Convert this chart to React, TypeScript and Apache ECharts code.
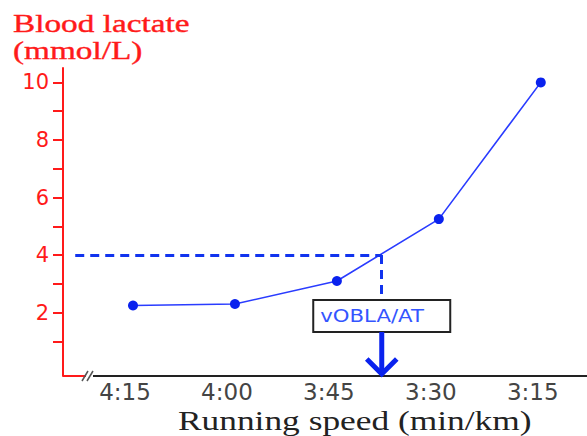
import React, { useEffect, useRef } from "react";
import * as echarts from "echarts";

// Data
const paceLabels = ["4:15", "4:00", "3:45", "3:30", "3:15"];
const paceSeconds = [255, 240, 225, 210, 195];
const lactate = [2.25, 2.3, 3.1, 5.25, 10.0];
const yTickValues = [1, 2, 3, 4, 5, 6, 7, 8, 9, 10];
const yLabelValues = [2, 4, 6, 8, 10];
const oblaLactate = 4;
const oblaPace = 218.4; // ~3:38 min/km
const oblaText = "vOBLA/AT";
const yTitleLines = ["Blood lactate", "(mmol/L)"];
const xTitle = "Running speed (min/km)";

export default function App() {
  const ref = useRef<HTMLDivElement>(null);
  useEffect(() => {
    if (!ref.current) return;
    const chart = echarts.init(ref.current, null, { renderer: "svg" });
    const blue = "#1133ee";
    const red = "#ff1a1a";
    chart.setOption({
      animation: false,
      grid: { left: 63, right: 0, top: 68, bottom: 60, containLabel: false, outerBoundsMode: "none" },
      xAxis: {
        type: "value",
        min: 188.2,
        max: 265.3,
        inverse: true,
        axisLine: { show: false },
        axisTick: { show: false },
        splitLine: { show: false },
        axisLabel: {
          customValues: paceSeconds,
          formatter: (v: number) => paceLabels[paceSeconds.indexOf(v)] ?? "",
          color: "#444",
          fontFamily: "DejaVu Sans",
          fontSize: 23,
          margin: 4,
          padding: [0, 16, 0, 0],
        },
      },
      yAxis: {
        type: "value",
        min: -0.2,
        max: 10.5,
        axisLine: { show: true, lineStyle: { color: red, width: 2 } },
        axisTick: {
          show: true,
          customValues: yTickValues,
          length: 10,
          lineStyle: { color: red, width: 2 },
        },
        splitLine: { show: false },
        axisLabel: {
          customValues: yLabelValues,
          color: red,
          fontFamily: "DejaVu Sans",
          fontSize: 21,
          margin: 14,
        },
      },
      series: [
        {
          type: "line",
          data: paceSeconds.map((p, i) => [p, lactate[i]]),
          symbol: "circle",
          symbolSize: 10,
          lineStyle: { color: "#2a3cff", width: 1.6 },
          itemStyle: { color: "#0a22ee" },
          markLine: {
            silent: true,
            symbol: "none",
            label: { show: false },
            lineStyle: { color: blue, width: 3, type: [9, 6] },
            data: [
              [{ coord: [263.5, oblaLactate] }, { coord: [oblaPace, oblaLactate] }],
              [{ coord: [oblaPace, oblaLactate] }, { coord: [oblaPace, 2.6] }],
            ],
          },
        },
      ],
    });

    const top = chart.convertToPixel({ gridIndex: 0 }, [oblaPace, 2.44]) as number[];
    const base = chart.convertToPixel({ gridIndex: 0 }, [oblaPace, -0.2]) as number[];
    const cx = top[0];
    const boxTop = top[1];
    const boxH = 32;
    const boxW = 137;
    const axisY = base[1];
    chart.setOption({
      graphic: [
        // x axis: red stub, break marks, black axis
        { type: "line", shape: { x1: 63, y1: axisY, x2: 86, y2: axisY }, style: { stroke: red, lineWidth: 2 } },
        { type: "line", shape: { x1: 82, y1: axisY + 5, x2: 88, y2: axisY - 5 }, style: { stroke: "#555", lineWidth: 1.5 } },
        { type: "line", shape: { x1: 87, y1: axisY + 5, x2: 93, y2: axisY - 5 }, style: { stroke: "#555", lineWidth: 1.5 } },
        { type: "line", shape: { x1: 93, y1: axisY, x2: 587, y2: axisY }, style: { stroke: "#222", lineWidth: 2 } },
        // titles
        {
          type: "text", x: 13, y: 23, scaleX: 1.28,
          style: { text: yTitleLines[0], x: 0, y: 0, fill: red, stroke: red, lineWidth: 0.4, font: "26px 'Liberation Serif'", align: "left", verticalAlign: "middle" },
        },
        {
          type: "text", x: 13, y: 50, scaleX: 1.28,
          style: { text: yTitleLines[1], x: 0, y: 0, fill: red, stroke: red, lineWidth: 0.4, font: "26px 'Liberation Serif'", align: "left", verticalAlign: "middle" },
        },
        {
          type: "text", x: 178, y: 421, scaleX: 1.31,
          style: { text: xTitle, x: 0, y: 0, fill: "#222", font: "27px 'Liberation Serif'", align: "left", verticalAlign: "middle" },
        },
        // OBLA box
        {
          type: "rect",
          shape: { x: cx - boxW / 2, y: boxTop, width: boxW, height: boxH },
          style: { fill: "#fff", stroke: "#222", lineWidth: 2 },
        },
        {
          type: "text", x: cx - boxW / 2 + 7, y: boxTop + boxH / 2, scaleX: 1.18,
          style: { text: oblaText, x: 0, y: 0, fill: "#3355ff", font: "18px 'DejaVu Sans'", align: "left", verticalAlign: "middle" },
        },
        // arrow
        { type: "line", shape: { x1: cx, y1: boxTop + boxH, x2: cx, y2: axisY - 2 }, style: { stroke: "#0a22ee", lineWidth: 5 } },
        {
          type: "polyline",
          shape: { points: [[cx - 15, axisY - 17], [cx, axisY - 2], [cx + 15, axisY - 17]] },
          style: { stroke: "#0a22ee", lineWidth: 5, fill: "none" },
        },
      ],
    });
    return () => chart.dispose();
  }, []);
  return (
    <div
      ref={ref}
      style={{ position: "fixed", left: 0, top: 0, width: 587, height: 436, background: "#fff" }}
    />
  );
}
